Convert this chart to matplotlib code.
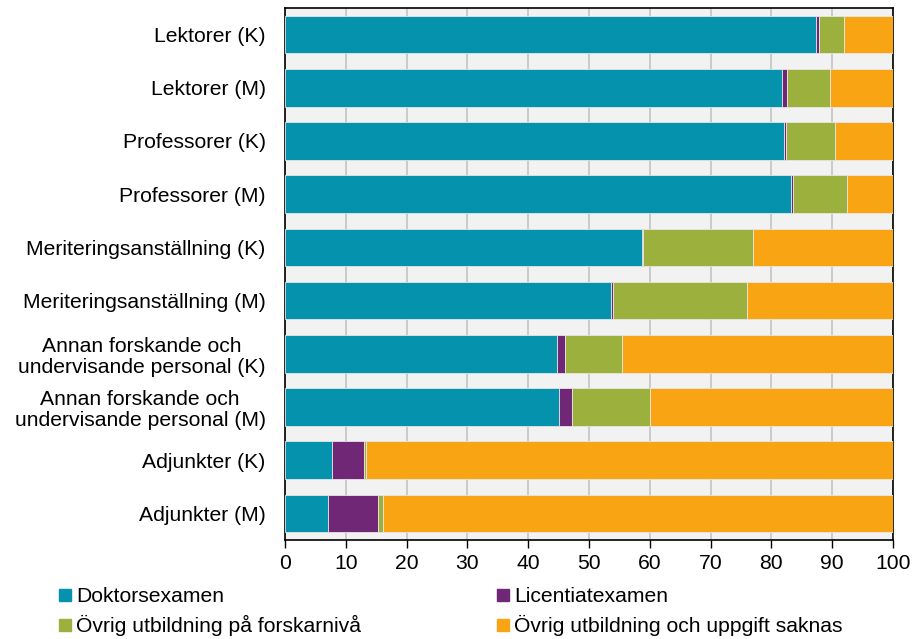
import matplotlib
matplotlib.use("Agg")
import matplotlib.pyplot as plt
import numpy as np
from matplotlib.lines import Line2D

plt.rcParams['font.family'] = ['Liberation Sans', 'DejaVu Sans']

categories = [
    "Lektorer (K)",
    "Lektorer (M)",
    "Professorer (K)",
    "Professorer (M)",
    "Meriteringsanställning (K)",
    "Meriteringsanställning (M)",
    "Annan forskande och\nundervisande personal (K)",
    "Annan forskande och\nundervisande personal (M)",
    "Adjunkter (K)",
    "Adjunkter (M)",
]
series_names = [
    "Doktorsexamen",
    "Licentiatexamen",
    "Övrig utbildning på forskarnivå",
    "Övrig utbildning och uppgift saknas",
]
doktor = [87.3, 81.8, 82.0, 83.3, 58.7, 53.6, 44.8, 45.1, 7.8, 7.0]
licentiat = [0.5, 0.8, 0.4, 0.3, 0.2, 0.4, 1.25, 2.1, 5.2, 8.3]
ovrig_forsk = [4.1, 7.0, 8.1, 8.9, 18.1, 22.0, 9.35, 12.9, 0.4, 0.8]
ovrig_saknas = [8.1, 10.4, 9.5, 7.5, 23.0, 24.0, 44.6, 39.9, 86.6, 83.9]
xticks = [0, 10, 20, 30, 40, 50, 60, 70, 80, 90, 100]

colors = ["#0592ad", "#702776", "#9cb13d", "#f9a413"]
FS = 15.2

fig = plt.figure(figsize=(9.16, 6.39), dpi=100)
ax = fig.add_axes([285/916, 1-540/639, (893-285)/916, (540-8)/639])
ax.set_facecolor("#f2f2f2")

y = np.arange(len(categories))
left = np.zeros(len(categories))
for vals, col, name in zip([doktor, licentiat, ovrig_forsk, ovrig_saknas], colors, series_names):
    v = np.array(vals)
    ax.barh(y, v, left=left, height=0.71, color=col, edgecolor="#e6e6e6",
            linewidth=0.6, label=name, zorder=3)
    left += v

ax.set_ylim(len(categories) - 0.5, -0.5)
ax.set_xlim(0, 100)
ax.set_xticks(xticks)
ax.set_xticklabels([str(t) for t in xticks], fontsize=FS)
ax.set_yticks(y)
ax.set_yticklabels(categories, fontsize=FS, multialignment="center", linespacing=1.15)
ax.tick_params(axis='y', length=0, pad=14)
ax.tick_params(axis='x', length=6, width=1, color="black", pad=4)
ax.xaxis.grid(True, color="#c4c4c4", linewidth=1.2, zorder=0)
ax.set_axisbelow(True)
for s in ax.spines.values():
    s.set_color("black")
    s.set_linewidth(1.2)

handles = [Line2D([0], [0], marker='s', linestyle='none', markersize=8,
                  markerfacecolor=c, markeredgecolor=c) for c in colors]
# row-wise order: matplotlib fills columns first
order = [0, 2, 1, 3]
fig.legend([handles[i] for i in order], [series_names[i] for i in order],
           loc='upper left', bbox_to_anchor=(0.062, 0.081),
           ncol=2, frameon=False, fontsize=FS, handletextpad=0.1,
           handlelength=0.8, columnspacing=6.35, labelspacing=0.42,
           borderaxespad=0, borderpad=0)

fig.savefig("out.png", dpi=100)
